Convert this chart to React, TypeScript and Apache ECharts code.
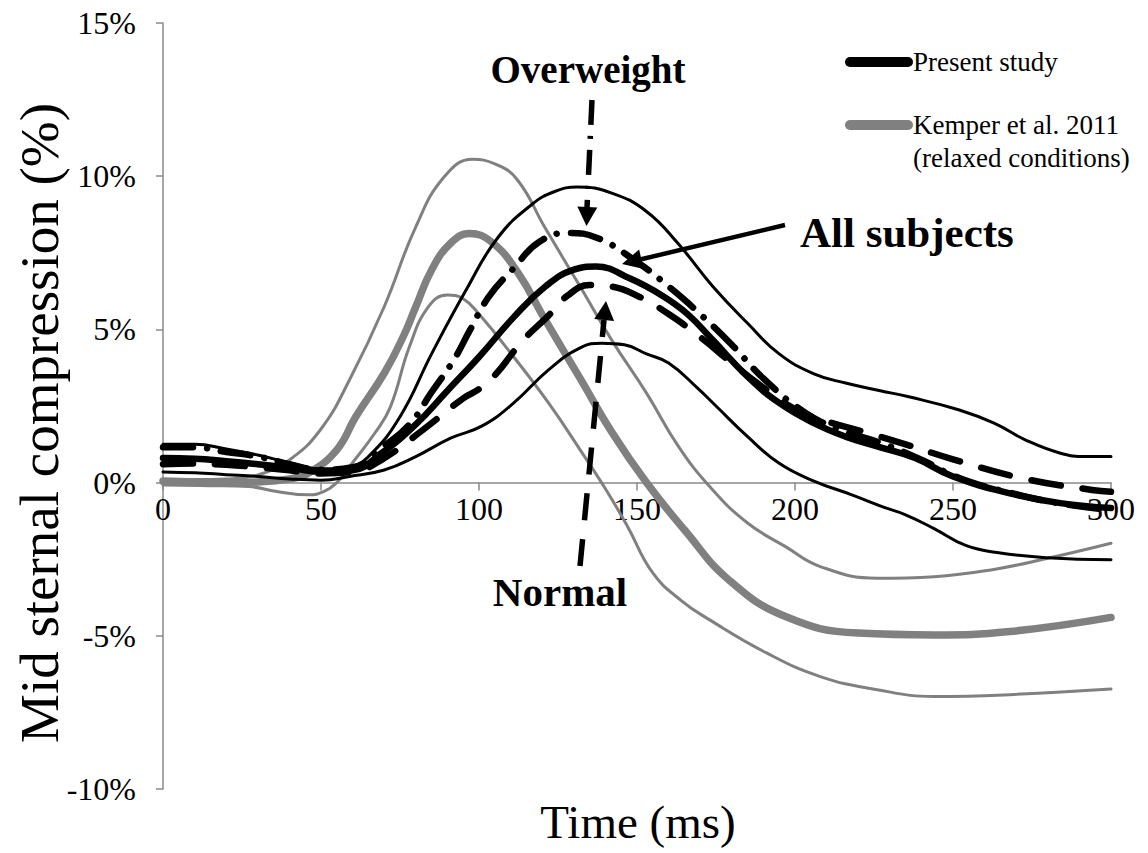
import React, { useEffect, useRef } from "react";
import * as echarts from "echarts";

// ---- Data (time in ms, mid sternal compression in %) ----
const xTicks = [0, 50, 100, 150, 200, 250, 300];
const yTicks = [-10, -5, 0, 5, 10, 15];

const kemperUpper: [number, number][] = [
  [0, 0.1], [10, 0.1], [20, 0.12], [30, 0.25], [40, 0.74], [50, 1.75], [59, 3.35], [70, 5.74],
  [80, 8.35], [89, 9.98], [98, 10.55], [105, 10.4], [112, 9.9], [121, 8.3], [132, 6.4],
  [142, 4.65], [153, 2.92], [163, 1.2], [173, -0.13], [185, -1.32], [197, -2.09], [208, -2.74],
  [226, -3.12], [244, -3.07], [262, -2.85], [280, -2.47], [300, -1.98],
];
const kemperMean: [number, number][] = [
  [0, 0.05], [10, 0.02], [20, 0], [30, 0.02], [40, 0.12], [46, 0.31], [55, 1.07], [61, 2.15],
  [70, 3.57], [76, 4.76], [80, 5.74], [85, 6.94], [91, 7.81], [97, 8.13], [104, 7.85], [112, 6.9],
  [121, 5.3], [132, 3.4], [142, 1.65], [153, 0], [165, -1.54], [179, -3.17], [197, -4.37],
  [220, -4.91], [244, -4.97], [268, -4.86], [300, -4.4],
];
const kemperLower: [number, number][] = [
  [0, -0.08], [15, -0.1], [27, -0.13], [36, -0.29], [46, -0.4], [51, -0.29], [55, 0], [59, 0.52],
  [67, 1.61], [72, 2.48], [78, 4.44], [84, 5.74], [90, 6.12], [95, 6.0], [100, 5.5], [111, 4.1],
  [122, 2.6], [132, 1.07], [140, -0.2], [147, -1.43], [155, -2.95], [164, -3.85], [173, -4.48],
  [191, -5.56], [208, -6.33], [226, -6.76], [244, -6.98], [268, -6.92], [300, -6.74],
];
const presentUpper: [number, number][] = [
  [0, 1.25], [10, 1.25], [20, 1.1], [30, 0.9], [40, 0.65], [50, 0.45], [58, 0.45], [65, 0.85],
  [75, 2.15], [85, 4.2], [96, 6.3], [106, 8.0], [117, 9.1], [124, 9.5], [131, 9.65], [142, 9.45],
  [153, 8.85], [163, 7.8], [174, 6.4], [185, 5.2], [195, 4.2], [206, 3.55], [216, 3.25],
  [227, 3.0], [236, 2.8], [252, 2.37], [263, 1.94], [273, 1.39], [284, 0.96], [292, 0.85], [300, 0.85],
];
const presentMean: [number, number][] = [
  [0, 0.8], [10, 0.78], [20, 0.7], [30, 0.6], [40, 0.48], [50, 0.35], [60, 0.4], [69, 0.95],
  [80, 1.9], [90, 3.0], [100, 4.1], [111, 5.4], [121, 6.4], [130, 6.95], [137, 7.05], [148, 6.65],
  [158, 6.1], [166, 5.5], [174, 4.65], [185, 3.46], [195, 2.6], [206, 1.94], [216, 1.5],
  [227, 1.15], [238, 0.8], [250, 0.2], [268, -0.35], [284, -0.67], [300, -0.83],
];
const presentLower: [number, number][] = [
  [0, 0.35], [10, 0.32], [20, 0.26], [30, 0.2], [40, 0.12], [50, 0.08], [59, 0.2], [70, 0.41],
  [80, 0.85], [91, 1.45], [101, 1.85], [111, 2.6], [122, 3.68], [132, 4.4], [139, 4.55],
  [146, 4.5], [153, 4.2], [160, 3.9], [169, 3.1], [175, 2.5], [185, 1.5], [195, 0.63], [206, 0.05],
  [218, -0.4], [228, -0.8], [235, -1.05], [244, -1.5], [254, -2.05], [265, -2.3], [280, -2.45], [300, -2.52],
];
const overweight: [number, number][] = [
  [0, 1.15], [10, 1.15], [20, 1.0], [30, 0.85], [40, 0.6], [50, 0.42], [60, 0.5], [70, 1.2],
  [78, 1.9], [85, 2.95], [92, 4.0], [97, 4.95], [103, 6.05], [111, 7.0], [119, 7.85], [128, 8.15],
  [137, 8.0], [150, 7.2], [160, 6.4], [170, 5.5], [180, 4.5], [190, 3.4], [203, 2.3], [215, 1.7],
  [227, 1.3], [240, 0.75], [252, 0.15], [270, -0.38], [285, -0.7], [300, -0.9],
];
const normal: [number, number][] = [
  [0, 0.6], [10, 0.62], [20, 0.58], [30, 0.5], [40, 0.4], [50, 0.3], [60, 0.35], [70, 0.8],
  [82, 1.7], [95, 2.75], [100, 3.05], [105, 3.5], [114, 4.65], [122, 5.45], [128, 6.1], [135, 6.45],
  [142, 6.4], [151, 6.05], [160, 5.5], [170, 4.75], [180, 3.9], [190, 3.1], [200, 2.4], [210, 2.0],
  [222, 1.65], [235, 1.25], [250, 0.76], [272, 0.14], [294, -0.24], [300, -0.3],
];

const legendLabels = ["Present study", "Kemper et al. 2011", "(relaxed conditions)"];
const annotationLabels = ["Overweight", "All subjects", "Normal"];

const SERIF = "'Liberation Serif', 'Times New Roman', serif";
const GRAY = "#808080";
const AXIS = "#8a8a8a";

const GRID_TOP = 23;
const GRID_H = 766;

function arrowHead(tip: [number, number], from: [number, number], len: number, halfW: number) {
  const dx = tip[0] - from[0];
  const dy = tip[1] - from[1];
  const d = Math.hypot(dx, dy);
  const ux = dx / d, uy = dy / d;
  const bx = tip[0] - ux * len, by = tip[1] - uy * len;
  return [
    [tip[0], tip[1]],
    [bx - uy * halfW, by + ux * halfW],
    [bx + uy * halfW, by - ux * halfW],
  ];
}

export default function App() {
  const ref = useRef<HTMLDivElement>(null);

  useEffect(() => {
    document.body.style.margin = "0";
    if (!ref.current) return;
    const chart = echarts.init(ref.current, null, { renderer: "svg" });

    const yMin = yTicks[0];
    const yMax = yTicks[yTicks.length - 1];
    // distance from the grid bottom up to the zero line, so the x axis sits on y = 0
    const zeroOffset = (GRID_H * (0 - yMin)) / (yMax - yMin);

    const line = (name: string, data: [number, number][], color: string, width: number, type: any = "solid", z = 2) => ({
      name,
      type: "line",
      data,
      smooth: 0.45,
      showSymbol: false,
      symbol: "none",
      z,
      lineStyle: { color, width, type, cap: "round", join: "round" },
    });

    const boldText = (text: string, x: number, y: number, align: string, size: number) => ({
      type: "text",
      x,
      y,
      z: 10,
      style: {
        text,
        fontFamily: SERIF,
        fontSize: size,
        fontWeight: "bold",
        fill: "#000",
        align,
        verticalAlign: "middle",
      },
    });

    const normText = (text: string, x: number, y: number, size: number) => ({
      type: "text",
      x,
      y,
      z: 10,
      style: { text, fontFamily: SERIF, fontSize: size, fill: "#000", align: "left", verticalAlign: "middle" },
    });

    const option: any = {
      animation: false,
      backgroundColor: "#fff",
      grid: { left: 163, top: GRID_TOP, width: 948, height: GRID_H, containLabel: false },
      xAxis: {
        type: "value",
        position: "bottom",
        offset: -zeroOffset,
        min: xTicks[0],
        max: xTicks[xTicks.length - 1],
        interval: xTicks[1] - xTicks[0],
        axisLine: { show: true, onZero: false, lineStyle: { color: AXIS, width: 1.5 } },
        axisTick: { show: true, length: 8, lineStyle: { color: AXIS, width: 1.5 } },
        axisLabel: { color: "#000", fontFamily: SERIF, fontSize: 32, margin: 10 },
        splitLine: { show: false },
      },
      yAxis: {
        type: "value",
        min: yMin,
        max: yMax,
        interval: yTicks[1] - yTicks[0],
        axisLine: { show: true, onZero: false, lineStyle: { color: AXIS, width: 1.5 } },
        axisTick: { show: true, length: 7, lineStyle: { color: AXIS, width: 1.5 } },
        axisLabel: { color: "#000", fontFamily: SERIF, fontSize: 32, margin: 27, formatter: "{value}%" },
        splitLine: { show: false },
      },
      series: [
        line("Kemper upper", kemperUpper, GRAY, 3),
        line("Kemper lower", kemperLower, GRAY, 3),
        line("Kemper et al. 2011 (relaxed conditions)", kemperMean, GRAY, 7.5),
        line("Present upper", presentUpper, "#000", 3, "solid", 3),
        line("Present lower", presentLower, "#000", 3, "solid", 3),
        line("Overweight", overweight, "#000", 6.5, [30, 14, 0.1, 14], 4),
        line("Normal", normal, "#000", 6.5, [30, 22], 4),
        line("Present study", presentMean, "#000", 6.5, "solid", 5),
      ],
      graphic: [
        // axis titles
        {
          type: "text",
          x: 39,
          y: 423,
          rotation: Math.PI / 2,
          z: 10,
          style: {
            text: "Mid sternal compression (%)",
            fontFamily: SERIF,
            fontSize: 55,
            fill: "#000",
            align: "center",
            verticalAlign: "middle",
          },
        },
        {
          type: "text",
          x: 638,
          y: 822,
          z: 10,
          style: {
            text: "Time (ms)",
            fontFamily: SERIF,
            fontSize: 47,
            fill: "#000",
            align: "center",
            verticalAlign: "middle",
          },
        },
        // legend
        { type: "line", z: 10, shape: { x1: 850, y1: 62, x2: 908, y2: 62 }, style: { stroke: "#000", lineWidth: 10, lineCap: "round" } },
        { type: "line", z: 10, shape: { x1: 850, y1: 125, x2: 908, y2: 125 }, style: { stroke: GRAY, lineWidth: 10, lineCap: "round" } },
        normText(legendLabels[0], 913, 62, 27),
        normText(legendLabels[1], 913, 125, 27),
        normText(legendLabels[2], 913, 158, 27),
        // annotations
        boldText(annotationLabels[0], 588, 69, "center", 39),
        boldText(annotationLabels[1], 800, 232, "left", 43),
        boldText(annotationLabels[2], 560, 592, "center", 41),
        // Overweight arrow (dash-dot)
        {
          type: "line",
          z: 10,
          shape: { x1: 592, y1: 100, x2: 587, y2: 208 },
          style: { stroke: "#000", lineWidth: 5.5, lineDash: [25, 11, 3, 11] },
        },
        { type: "polygon", z: 10, shape: { points: arrowHead([586.5, 226], [592, 100], 19, 10) }, style: { fill: "#000" } },
        // Normal arrow (dashed)
        {
          type: "line",
          z: 10,
          shape: { x1: 580, y1: 566, x2: 604, y2: 320 },
          style: { stroke: "#000", lineWidth: 5.5, lineDash: [27, 19] },
        },
        { type: "polygon", z: 10, shape: { points: arrowHead([606, 301], [580, 566], 19, 10) }, style: { fill: "#000" } },
        // All subjects arrow (solid)
        {
          type: "line",
          z: 10,
          shape: { x1: 785, y1: 225, x2: 638, y2: 260 },
          style: { stroke: "#000", lineWidth: 4.5 },
        },
        { type: "polygon", z: 10, shape: { points: arrowHead([622, 264], [785, 225], 20, 10) }, style: { fill: "#000" } },
      ],
    };

    chart.setOption(option);
    return () => chart.dispose();
  }, []);

  return <div ref={ref} style={{ width: 1148, height: 853 }} />;
}
